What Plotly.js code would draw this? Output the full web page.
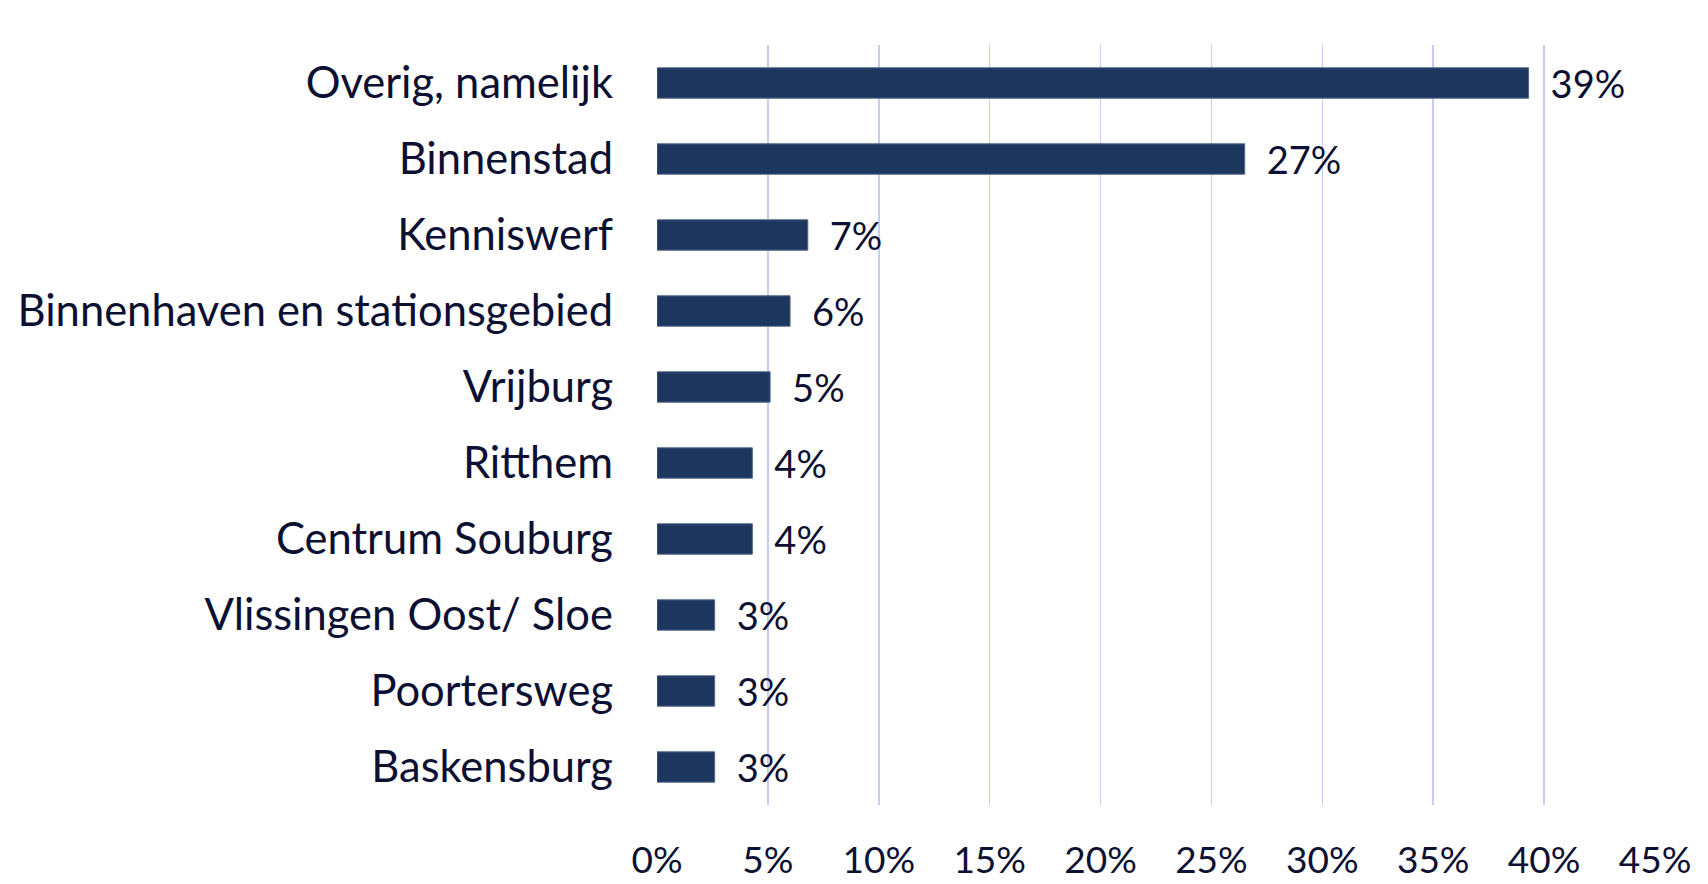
<!DOCTYPE html>
<html>
<head>
<meta charset="utf-8">
<script src="https://cdn.plot.ly/plotly-3.0.1.min.js"></script>
<style>html,body{margin:0;padding:0;background:#fff;}#chart{width:1708px;height:884px;}</style>
</head>
<body>
<div id="chart"></div>
<script>
const categories = ["Overig, namelijk","Binnenstad","Kenniswerf","Binnenhaven en stationsgebied","Vrijburg","Ritthem","Centrum Souburg","Vlissingen Oost/ Sloe","Poortersweg","Baskensburg"];
const values = [0.393, 0.265, 0.068, 0.060, 0.051, 0.043, 0.043, 0.026, 0.026, 0.026];
const valueLabels = ["39%","27%","7%","6%","5%","4%","4%","3%","3%","3%"];
const tickValues = [0,0.05,0.10,0.15,0.20,0.25,0.30,0.35,0.40,0.45];
const tickLabels = ["0%","5%","10%","15%","20%","25%","30%","35%","40%","45%"];

const FONT = "Lato, 'Open Sans', sans-serif";
const TXT = "#0c1033";

Plotly.newPlot("chart", [{
  type: "bar",
  orientation: "h",
  y: categories,
  x: values,
  text: valueLabels,
  texttemplate: "\u2002%{text}",
  textposition: "outside",
  constraintext: "none",
  cliponaxis: false,
  textfont: {family: FONT, size: 38, color: TXT},
  marker: {color: "#1c365e", line: {color: "#55688a", width: 1}},
  hoverinfo: "none"
}], {
  width: 1708, height: 884,
  margin: {l: 657, r: 53, t: 45, b: 79, autoexpand: false},
  paper_bgcolor: "#ffffff", plot_bgcolor: "#ffffff",
  bargap: 0.6,
  showlegend: false,
  font: {family: FONT, color: TXT},
  xaxis: {
    range: [0, 0.45],
    tickvals: tickValues,
    ticktext: tickLabels,
    showgrid: true,
    gridcolor: "#c6ccf4",
    gridwidth: 1.5,
    zeroline: false,
    showline: false,
    ticks: "",
    ticklabelstandoff: 30,
    tickfont: {family: FONT, size: 37, color: TXT},
    automargin: false,
    fixedrange: true
  },
  yaxis: {
    autorange: "reversed",
    showgrid: false,
    zeroline: false,
    showline: false,
    ticks: "",
    ticklabelstandoff: 43,
    tickfont: {family: FONT, size: 43.5, color: TXT},
    automargin: false,
    fixedrange: true
  }
}, {displayModeBar: false, staticPlot: true});
</script>
</body>
</html>
